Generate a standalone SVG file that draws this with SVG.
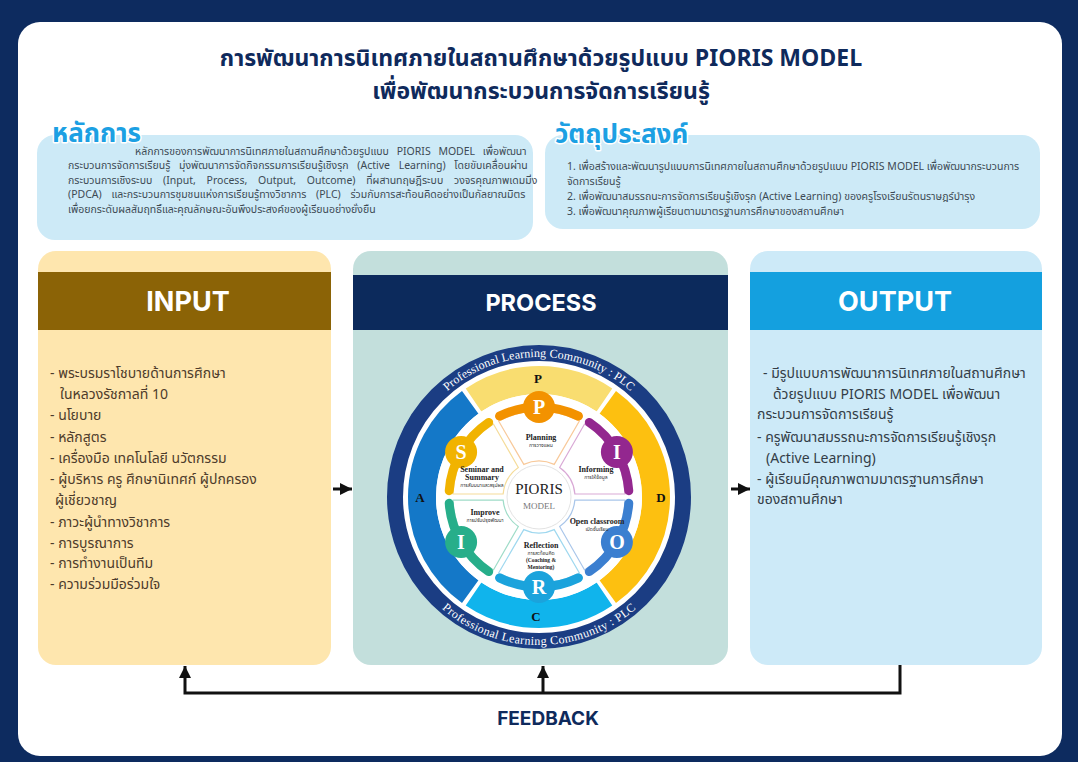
<svg xmlns="http://www.w3.org/2000/svg" width="1078" height="762" viewBox="0 0 1078 762">
<defs>
<style>
.th{font-family:"Noto Sans Thai","Noto Sans","DejaVu Sans",sans-serif}
.title{font-size:23px;font-weight:bold;fill:#0f2a5c;text-anchor:middle}
.head{font-size:26px;font-weight:bold;fill:#1ca0e3;stroke:#fff;stroke-width:3;paint-order:stroke;stroke-linejoin:round}
.body{font-size:10.5px;fill:#3d4a55}
.inlist{font-size:14px;fill:#4d3b2b}
.outlist{font-size:14px;fill:#333d47}
.colhead{font-family:Inter,"Liberation Sans",sans-serif;font-weight:bold;fill:#fff;text-anchor:middle}
.serif{font-family:"Liberation Serif","DejaVu Serif",serif}
.lbl{font-size:8px;font-weight:bold;fill:#222;text-anchor:middle}
.sub{font-size:5px;fill:#333;text-anchor:middle}
.letter{font-size:20px;font-weight:bold;fill:#fff;text-anchor:middle}
.band{font-size:13px;font-weight:bold;fill:#111;text-anchor:middle}
.ring{font-size:12px;fill:#fff}
.conn{stroke:#111;stroke-width:3;fill:none}
.seg{fill:#fff;stroke-width:1.2}
.arm{fill:none;stroke-width:9;stroke-linecap:round}
</style>
<marker id="ah" viewBox="0 0 10 10" refX="10" refY="5" markerWidth="4" markerHeight="4" orient="auto"><path d="M0,0 L10,5 L0,10 z" fill="#111"/></marker>
<path id="seg" d="M -15.21,-32.63 L -40.38,-75.93 A 86 86 0 0 1 40.38,-75.93 L 15.21,-32.63 A 36 36 0 0 0 -15.21,-32.63 Z"/>
<path id="arm" d="M -39.45,-80.89 A 90 90 0 0 1 39.45,-80.89"/>
<path id="topArc" d="M 417.76,427 A 140 140 0 0 1 660.24,427"/>
<path id="botArc" d="M 410.83,571 A 148 148 0 0 0 667.17,571"/>
</defs>

<rect x="0" y="0" width="1078" height="762" fill="#0d2b5f"/>
<rect x="18" y="22" width="1044" height="734" rx="22" fill="#fff"/>

<g id="title" class="th title">
<text x="541" y="66">การพัฒนาการนิเทศภายในสถานศึกษาด้วยรูปแบบ PIORIS MODEL</text>
<text x="541" y="99">เพื่อพัฒนากระบวนการจัดการเรียนรู้</text>
</g>

<g id="principle">
<rect x="37" y="135" width="496" height="105" rx="18" fill="#cdeaf7"/>
<text class="th head" x="52" y="142">หลักการ</text>
<g class="th body">
<text x="135" y="155" word-spacing="5">หลักการของการพัฒนาการนิเทศภายในสถานศึกษาด้วยรูปแบบ PIORIS MODEL เพื่อพัฒนา</text>
<text x="68" y="169" word-spacing="6">กระบวนการจัดการเรียนรู้ มุ่งพัฒนาการจัดกิจกรรมการเรียนรู้เชิงรุก (Active Learning) โดยขับเคลื่อนผ่าน</text>
<text x="68" y="184" word-spacing="8">กระบวนการเชิงระบบ (Input, Process, Output, Outcome) ที่ผสานทฤษฎีระบบ วงจรคุณภาพเดมมิ่ง</text>
<text x="68" y="198" word-spacing="7">(PDCA) และกระบวนการชุมชนแห่งการเรียนรู้ทางวิชาการ (PLC) ร่วมกับการสะท้อนคิดอย่างเป็นกัลยาณมิตร</text>
<text x="68" y="213">เพื่อยกระดับผลสัมฤทธิ์และคุณลักษณะอันพึงประสงค์ของผู้เรียนอย่างยั่งยืน</text>
</g>
</g>

<g id="objective">
<rect x="545" y="135" width="495" height="94" rx="18" fill="#cdeaf7"/>
<text class="th head" x="555" y="143">วัตถุประสงค์</text>
<g class="th body">
<text x="567" y="170">1. เพื่อสร้างและพัฒนารูปแบบการนิเทศภายในสถานศึกษาด้วยรูปแบบ PIORIS MODEL เพื่อพัฒนากระบวนการ</text>
<text x="567" y="185">จัดการเรียนรู้</text>
<text x="567" y="200">2. เพื่อพัฒนาสมรรถนะการจัดการเรียนรู้เชิงรุก (Active Learning) ของครูโรงเรียนรัตนราษฎร์บำรุง</text>
<text x="567" y="215">3. เพื่อพัฒนาคุณภาพผู้เรียนตามมาตรฐานการศึกษาของสถานศึกษา</text>
</g>
</g>

<g id="input">
<rect x="38" y="251" width="293" height="414" rx="18" fill="#fee6ae"/>
<rect x="38" y="272" width="293" height="58" fill="#8b6306"/>
<text class="colhead" x="188" y="311" font-size="27">INPUT</text>
<g class="th inlist">
<text x="50" y="378">- พระบรมราโชบายด้านการศึกษา</text>
<text x="60" y="399">ในหลวงรัชกาลที่ 10</text>
<text x="50" y="420">- นโยบาย</text>
<text x="50" y="442">- หลักสูตร</text>
<text x="50" y="463">- เครื่องมือ เทคโนโลยี นวัตกรรม</text>
<text x="50" y="484">- ผู้บริหาร ครู ศึกษานิเทศก์ ผู้ปกครอง</text>
<text x="55" y="505">ผู้เชี่ยวชาญ</text>
<text x="50" y="527">- ภาวะผู้นำทางวิชาการ</text>
<text x="50" y="548">- การบูรณาการ</text>
<text x="50" y="568">- การทำงานเป็นทีม</text>
<text x="50" y="589">- ความร่วมมือร่วมใจ</text>
</g>
</g>

<g id="process">
<rect x="353" y="251" width="375" height="414" rx="18" fill="#c3dfdc"/>
<rect x="353" y="275" width="375" height="55" fill="#0c2a5c"/>
<text class="colhead" x="541" y="311" font-size="23.5">PROCESS</text>
<circle cx="539" cy="497" r="144" fill="#fff" stroke="#1b3d83" stroke-width="16"/>
<text class="serif ring"><textPath href="#topArc" startOffset="50%" text-anchor="middle" textLength="200" lengthAdjust="spacing">Professional Learning Community : PLC</textPath></text>
<text class="serif ring"><textPath href="#botArc" startOffset="50%" text-anchor="middle" textLength="212" lengthAdjust="spacing">Professional Learning Community : PLC</textPath></text>
<g fill="none" stroke-width="28">
<path d="M 473.57,400.01 A 117 117 0 0 1 604.43,400.01" stroke="#f9dd70"/>
<path d="M 607.77,402.35 A 117 117 0 0 1 607.77,591.65" stroke="#fdc010"/>
<path d="M 604.43,593.99 A 117 117 0 0 1 473.57,593.99" stroke="#10b4ec"/>
<path d="M 470.23,591.65 A 117 117 0 0 1 470.23,402.35" stroke="#1478c8"/>
</g>
<g class="serif band">
<text x="538" y="383">P</text>
<text x="661" y="502">D</text>
<text x="536" y="621">C</text>
<text x="420" y="502">A</text>
</g>
<circle cx="539" cy="497" r="103" fill="#fff"/>
<g class="seg">
<use href="#seg" transform="translate(539,497)" stroke="#f8c99a"/>
<use href="#seg" transform="translate(539,497) rotate(60)" stroke="#d9a9d6"/>
<use href="#seg" transform="translate(539,497) rotate(120)" stroke="#a9c6ea"/>
<use href="#seg" transform="translate(539,497) rotate(180)" stroke="#9fd8ef"/>
<use href="#seg" transform="translate(539,497) rotate(240)" stroke="#9fdcc8"/>
<use href="#seg" transform="translate(539,497) rotate(300)" stroke="#f5dc9a"/>
</g>
<g class="arm">
<use href="#arm" transform="translate(539,497)" stroke="#f39200"/>
<use href="#arm" transform="translate(539,497) rotate(60)" stroke="#93278f"/>
<use href="#arm" transform="translate(539,497) rotate(120)" stroke="#3b7fd0"/>
<use href="#arm" transform="translate(539,497) rotate(180)" stroke="#1ba3dc"/>
<use href="#arm" transform="translate(539,497) rotate(240)" stroke="#27ae8a"/>
<use href="#arm" transform="translate(539,497) rotate(300)" stroke="#f1b300"/>
</g>
<circle cx="539" cy="407" r="16" fill="#f39200"/>
<circle cx="616.9" cy="452" r="16" fill="#93278f"/>
<circle cx="616.9" cy="542" r="16" fill="#3b7fd0"/>
<circle cx="539" cy="587" r="16" fill="#1ba3dc"/>
<circle cx="461.1" cy="542" r="16" fill="#27ae8a"/>
<circle cx="461.1" cy="452" r="16" fill="#f1b300"/>
<g class="serif letter">
<text x="539" y="414">P</text>
<text x="617" y="459">I</text>
<text x="617" y="549">O</text>
<text x="539" y="594">R</text>
<text x="461" y="549">I</text>
<text x="461" y="459">S</text>
</g>
<circle cx="539" cy="497" r="32" fill="#fff" stroke="#e3e3e3" stroke-width="1"/>
<text class="serif" x="539" y="494" font-size="15" fill="#222" text-anchor="middle">PIORIS</text>
<text class="serif" x="539" y="509" font-size="9" fill="#777" text-anchor="middle">MODEL</text>
<g class="serif lbl">
<text x="541" y="440">Planning</text>
<text x="596" y="472">Informing</text>
<text x="482" y="472">Seminar and</text>
<text x="482" y="480">Summary</text>
<text x="485" y="515">Improve</text>
<text x="597" y="524">Open classroom</text>
<text x="541" y="548">Reflection</text>
<text x="541" y="562" font-size="5.5">(Coaching &amp;</text>
<text x="541" y="569" font-size="5.5">Mentoring)</text>
</g>
<g class="th sub">
<text x="541" y="447">การวางแผน</text>
<text x="596" y="479">การให้ข้อมูล</text>
<text x="482" y="487">การสัมมนาและสรุปผล</text>
<text x="485" y="522">การปรับปรุงพัฒนา</text>
<text x="597" y="531">เปิดชั้นเรียน</text>
<text x="541" y="555">การสะท้อนคิด</text>
</g>
</g>

<g id="output">
<rect x="750" y="251" width="292" height="414" rx="18" fill="#cdeaf8"/>
<rect x="750" y="272" width="292" height="58" fill="#14a0df"/>
<text class="colhead" x="895" y="311" font-size="27">OUTPUT</text>
<g class="th outlist">
<text x="763" y="378">- มีรูปแบบการพัฒนาการนิเทศภายในสถานศึกษา</text>
<text x="773" y="399">ด้วยรูปแบบ PIORIS MODEL เพื่อพัฒนา</text>
<text x="757" y="419">กระบวนการจัดการเรียนรู้</text>
<text x="757" y="442">- ครูพัฒนาสมรรถนะการจัดการเรียนรู้เชิงรุก</text>
<text x="766" y="463">(Active Learning)</text>
<text x="757" y="484">- ผู้เรียนมีคุณภาพตามมาตรฐานการศึกษา</text>
<text x="757" y="504">ของสถานศึกษา</text>
</g>
</g>

<g id="connectors" class="conn">
<path d="M 333,489 H 352" marker-end="url(#ah)"/>
<path d="M 731,489 H 750" marker-end="url(#ah)"/>
<path d="M 900,665 V 693 H 185 V 666" marker-end="url(#ah)"/>
<path d="M 543,693 V 666" marker-end="url(#ah)"/>
</g>

<g id="feedback">
<text x="548" y="725" font-family="Inter,'Liberation Sans',sans-serif" font-size="19" font-weight="bold" fill="#0f2a5c" text-anchor="middle">FEEDBACK</text>
</g>
</svg>
